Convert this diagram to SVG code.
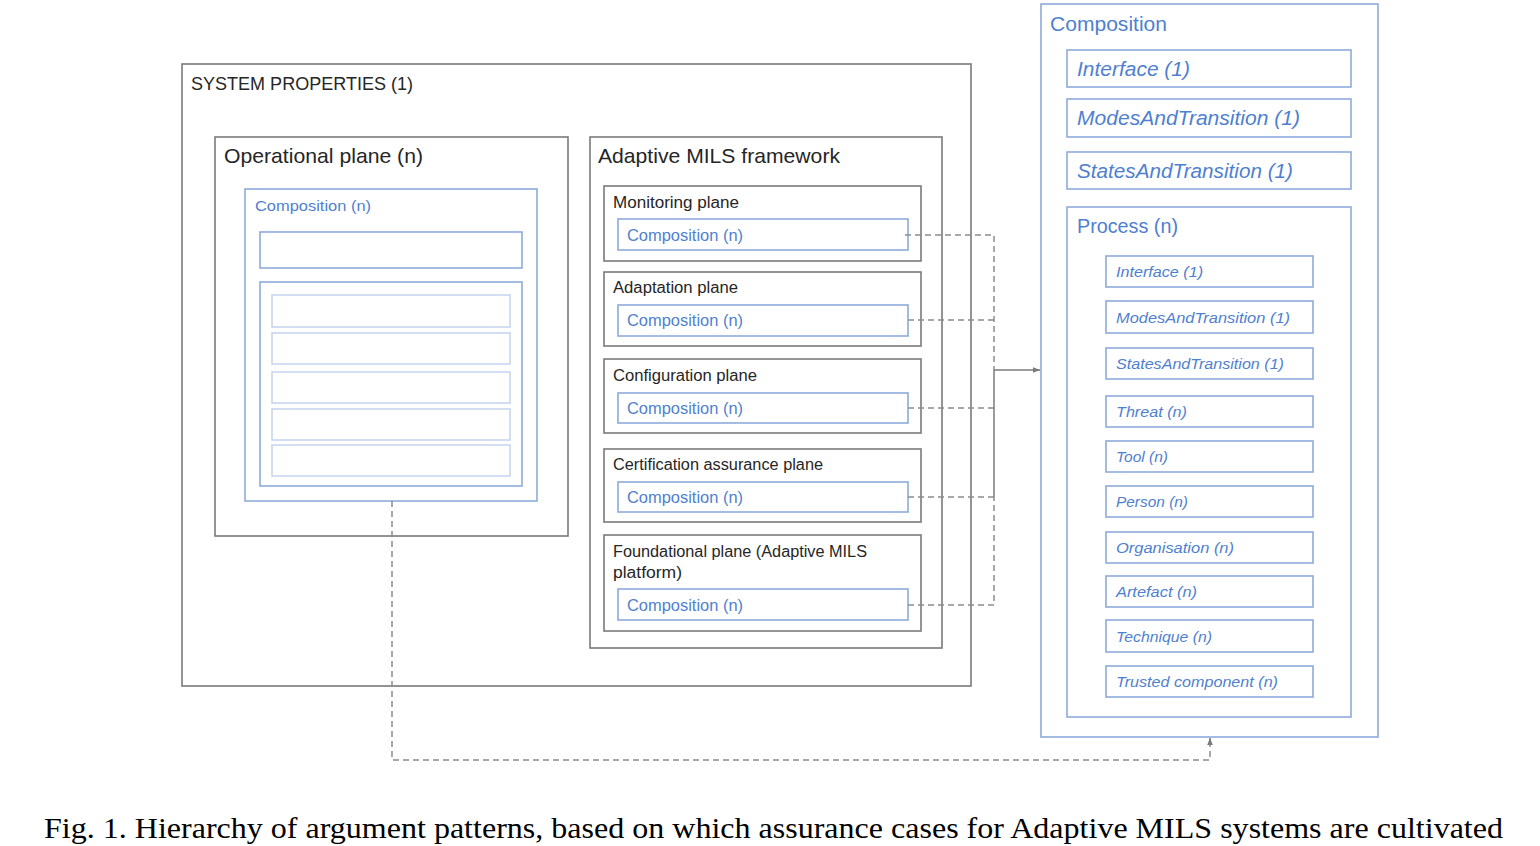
<svg xmlns="http://www.w3.org/2000/svg" width="1540" height="846" viewBox="0 0 1540 846">
<defs>
<style>
.g{fill:#fff;stroke:#7a7a7a;stroke-width:1.6}
.b{fill:#fff;stroke:#8eaadb;stroke-width:1.6}
.bl{fill:#fff;stroke:#c9d6f0;stroke-width:1.6}
.t{font-family:"Liberation Sans",Arial,sans-serif;fill:#262626}
.tb{font-family:"Liberation Sans",Arial,sans-serif;fill:#4f7fd0}
.i{font-style:italic}
.d{fill:none;stroke:#8c8c8c;stroke-width:1.5;stroke-dasharray:6 4}
.s{fill:none;stroke:#7a7a7a;stroke-width:1.5}
</style>
<marker id="ah" viewBox="0 0 10 10" refX="10" refY="5" markerWidth="7" markerHeight="7" orient="auto" markerUnits="userSpaceOnUse">
<path d="M0,1 L10,5 L0,9 z" fill="#7a7a7a"/>
</marker>
</defs>
<rect width="1540" height="846" fill="#fff"/>

<g id="system-properties">
<rect class="g" x="182" y="64" width="789" height="622"/>
<text class="t" x="191" y="90" font-size="19" textLength="222" lengthAdjust="spacingAndGlyphs">SYSTEM PROPERTIES (1)</text>
</g>

<g id="operational-plane">
<rect class="g" x="215" y="137" width="353" height="399"/>
<text class="t" x="224" y="163" font-size="21" textLength="199" lengthAdjust="spacingAndGlyphs">Operational plane (n)</text>
<rect class="b" x="245" y="189" width="292" height="312"/>
<text class="tb" x="255" y="211" font-size="15.5" textLength="116" lengthAdjust="spacingAndGlyphs">Composition (n)</text>
<rect class="b" x="260" y="232" width="262" height="36"/>
<rect class="b" x="260" y="282" width="262" height="204"/>
<rect class="bl" x="272" y="295" width="238" height="32"/>
<rect class="bl" x="272" y="333" width="238" height="31"/>
<rect class="bl" x="272" y="372" width="238" height="31"/>
<rect class="bl" x="272" y="409" width="238" height="31"/>
<rect class="bl" x="272" y="445" width="238" height="31"/>
</g>

<g id="adaptive-mils-framework">
<rect class="g" x="590" y="137" width="352" height="511"/>
<text class="t" x="598" y="163" font-size="21" textLength="242" lengthAdjust="spacingAndGlyphs">Adaptive MILS framework</text>
</g>

<g id="monitoring-plane">
<rect class="g" x="604" y="186" width="317" height="75"/>
<text class="t" x="613" y="208" font-size="16" textLength="126" lengthAdjust="spacingAndGlyphs">Monitoring plane</text>
<rect class="b" x="618" y="219" width="290" height="31"/>
<text class="tb" x="627" y="241" font-size="16" textLength="116" lengthAdjust="spacingAndGlyphs">Composition (n)</text>
</g>

<g id="adaptation-plane">
<rect class="g" x="604" y="272" width="317" height="74"/>
<text class="t" x="613" y="293" font-size="16" textLength="125" lengthAdjust="spacingAndGlyphs">Adaptation plane</text>
<rect class="b" x="618" y="305" width="290" height="31"/>
<text class="tb" x="627" y="326" font-size="16" textLength="116" lengthAdjust="spacingAndGlyphs">Composition (n)</text>
</g>

<g id="configuration-plane">
<rect class="g" x="604" y="359" width="317" height="74"/>
<text class="t" x="613" y="381" font-size="16" textLength="144" lengthAdjust="spacingAndGlyphs">Configuration plane</text>
<rect class="b" x="618" y="393" width="290" height="30"/>
<text class="tb" x="627" y="414" font-size="16" textLength="116" lengthAdjust="spacingAndGlyphs">Composition (n)</text>
</g>

<g id="certification-assurance-plane">
<rect class="g" x="604" y="449" width="317" height="73"/>
<text class="t" x="613" y="470" font-size="16" textLength="210" lengthAdjust="spacingAndGlyphs">Certification assurance plane</text>
<rect class="b" x="618" y="482" width="290" height="30"/>
<text class="tb" x="627" y="503" font-size="16" textLength="116" lengthAdjust="spacingAndGlyphs">Composition (n)</text>
</g>

<g id="foundational-plane">
<rect class="g" x="604" y="535" width="317" height="96"/>
<text class="t" x="613" y="557" font-size="16" textLength="254" lengthAdjust="spacingAndGlyphs">Foundational plane (Adaptive MILS</text>
<text class="t" x="613" y="578" font-size="16" textLength="69" lengthAdjust="spacingAndGlyphs">platform)</text>
<rect class="b" x="618" y="589" width="290" height="31"/>
<text class="tb" x="627" y="611" font-size="16" textLength="116" lengthAdjust="spacingAndGlyphs">Composition (n)</text>
</g>

<g id="composition">
<rect class="b" x="1041" y="4" width="337" height="733"/>
<text class="tb" x="1050" y="31" font-size="20.5" textLength="117" lengthAdjust="spacingAndGlyphs">Composition</text>
<rect class="b" x="1067" y="50" width="284" height="37"/>
<text class="tb i" x="1077" y="76" font-size="20.5" textLength="113" lengthAdjust="spacingAndGlyphs">Interface (1)</text>
<rect class="b" x="1067" y="99" width="284" height="38"/>
<text class="tb i" x="1077" y="125" font-size="20.5" textLength="223" lengthAdjust="spacingAndGlyphs">ModesAndTransition (1)</text>
<rect class="b" x="1067" y="152" width="284" height="37"/>
<text class="tb i" x="1077" y="178" font-size="20.5" textLength="216" lengthAdjust="spacingAndGlyphs">StatesAndTransition (1)</text>
</g>

<g id="process">
<rect class="b" x="1067" y="207" width="284" height="510"/>
<text class="tb" x="1077" y="233" font-size="20.5" textLength="101" lengthAdjust="spacingAndGlyphs">Process (n)</text>
<rect class="b" x="1106" y="256" width="207" height="31"/>
<text class="tb i" x="1116" y="277" font-size="15.5" textLength="87" lengthAdjust="spacingAndGlyphs">Interface (1)</text>
<rect class="b" x="1106" y="301" width="207" height="32"/>
<text class="tb i" x="1116" y="323" font-size="15.5" textLength="174" lengthAdjust="spacingAndGlyphs">ModesAndTransition (1)</text>
<rect class="b" x="1106" y="348" width="207" height="31"/>
<text class="tb i" x="1116" y="369" font-size="15.5" textLength="168" lengthAdjust="spacingAndGlyphs">StatesAndTransition (1)</text>
<rect class="b" x="1106" y="396" width="207" height="31"/>
<text class="tb i" x="1116" y="417" font-size="15.5" textLength="71" lengthAdjust="spacingAndGlyphs">Threat (n)</text>
<rect class="b" x="1106" y="441" width="207" height="31"/>
<text class="tb i" x="1116" y="462" font-size="15.5" textLength="52" lengthAdjust="spacingAndGlyphs">Tool (n)</text>
<rect class="b" x="1106" y="486" width="207" height="31"/>
<text class="tb i" x="1116" y="507" font-size="15.5" textLength="72" lengthAdjust="spacingAndGlyphs">Person (n)</text>
<rect class="b" x="1106" y="532" width="207" height="31"/>
<text class="tb i" x="1116" y="553" font-size="15.5" textLength="118" lengthAdjust="spacingAndGlyphs">Organisation (n)</text>
<rect class="b" x="1106" y="576" width="207" height="31"/>
<text class="tb i" x="1116" y="597" font-size="15.5" textLength="81" lengthAdjust="spacingAndGlyphs">Artefact (n)</text>
<rect class="b" x="1106" y="620" width="207" height="32"/>
<text class="tb i" x="1116" y="642" font-size="15.5" textLength="96" lengthAdjust="spacingAndGlyphs">Technique (n)</text>
<rect class="b" x="1106" y="666" width="207" height="31"/>
<text class="tb i" x="1116" y="687" font-size="15.5" textLength="162" lengthAdjust="spacingAndGlyphs">Trusted component (n)</text>
</g>

<g id="connectors">
<path class="d" d="M905,235 H994 V370"/>
<path class="d" d="M908,320 H994"/>
<path class="d" d="M908,408 H994"/>
<path class="d" d="M908,497 H994"/>
<path class="d" d="M908,605 H994 V497"/>
<path class="s" d="M994,370 V497"/>
<path class="s" d="M994,370 H1040" marker-end="url(#ah)"/>
<path class="d" d="M392,501 V760 H1210 V745"/>
<path class="s" d="M1210,745 V738" marker-end="url(#ah)"/>
</g>

<g id="caption">
<text x="44" y="838" font-family="'Liberation Serif','Times New Roman',serif" font-size="30" fill="#000" textLength="1459" lengthAdjust="spacingAndGlyphs">Fig. 1. Hierarchy of argument patterns, based on which assurance cases for Adaptive MILS systems are cultivated</text>
</g>
</svg>
